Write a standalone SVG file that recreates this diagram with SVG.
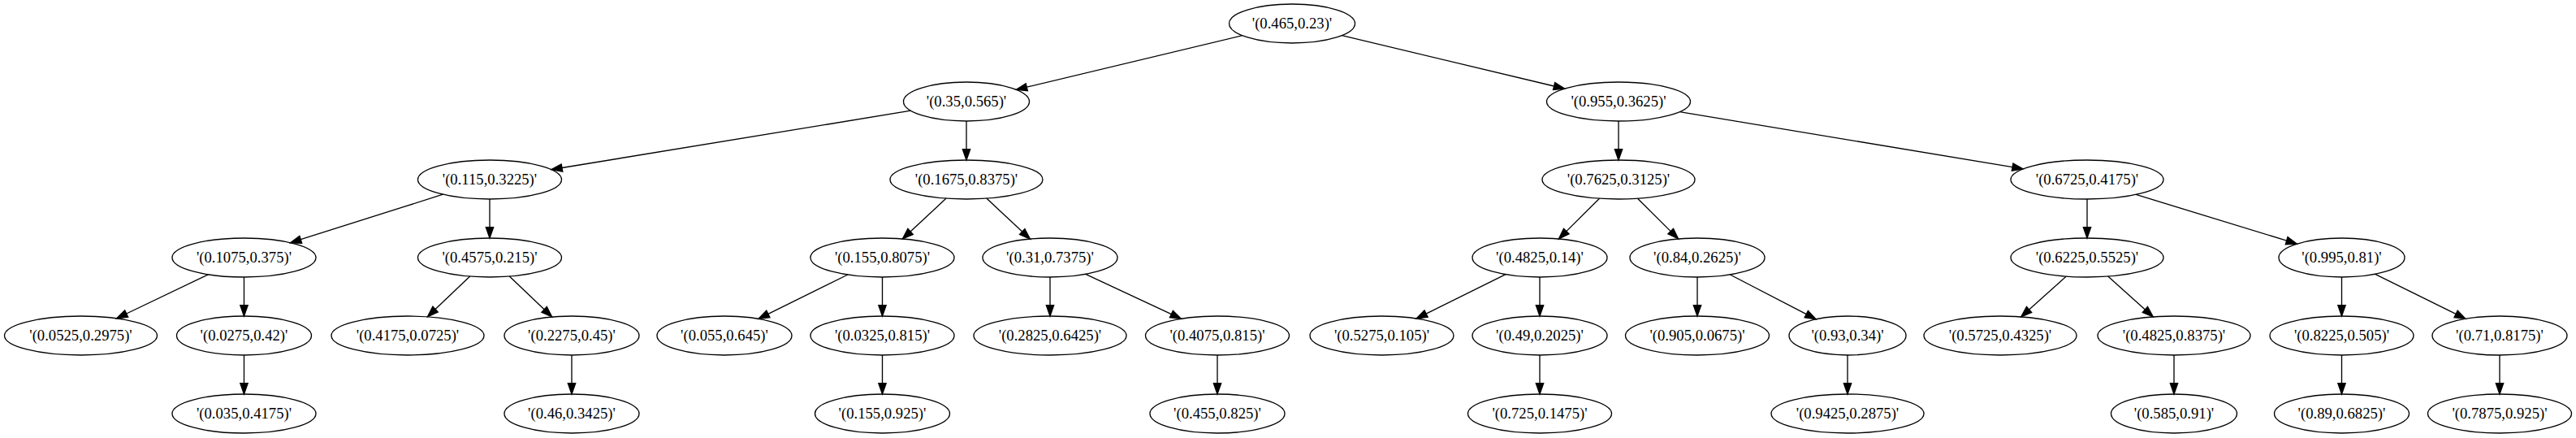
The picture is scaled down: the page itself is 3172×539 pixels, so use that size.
<svg xmlns="http://www.w3.org/2000/svg" width="3172" height="539" viewBox="0 0 3172 539">
<style>
.n ellipse{fill:none;stroke:#000;stroke-width:1.33}
.n text{font-family:"Liberation Serif","Times New Roman",serif;font-size:18.67px;text-anchor:middle;fill:#000}
.e path{fill:none;stroke:#000;stroke-width:1.33}
.e polygon{fill:#000;stroke:#000;stroke-width:1.33}
</style>
<rect width="3172" height="539" fill="#fff"/>
<g id="edges" class="e">
<path d="M1529.7,43.7L1264.3,107.2"/><polygon points="1251.3,110.3 1263.2,102.7 1265.4,111.7"/>
<path d="M1652.4,43.7L1913.6,106.0"/><polygon points="1926.6,109.1 1912.5,110.5 1914.7,101.5"/>
<path d="M1121.5,136.2L692.0,206.5"/><polygon points="678.8,208.6 691.2,201.9 692.8,211.1"/>
<path d="M1190,149V183.67"/><polygon points="1190,197 1185.33,183.67 1194.67,183.67"/>
<path d="M1993,149V183.67"/><polygon points="1993,197 1988.33,183.67 1997.67,183.67"/>
<path d="M2068.4,137.6L2478.1,205.7"/><polygon points="2491.2,207.9 2477.3,210.3 2478.9,201.1"/>
<path d="M545.5,239.2L370.3,294.7"/><polygon points="357.6,298.8 368.9,290.3 371.7,299.2"/>
<path d="M603,245V279.67"/><polygon points="603,293 598.33,279.67 607.67,279.67"/>
<path d="M1165.1,244.1L1121.1,284.9"/><polygon points="1111.3,294.0 1117.9,281.5 1124.3,288.4"/>
<path d="M1214.8,244.1L1258.7,285.0"/><polygon points="1268.4,294.1 1255.5,288.4 1261.9,281.6"/>
<path d="M1969.5,244.2L1928.8,284.6"/><polygon points="1919.3,294.0 1925.5,281.3 1932.1,287.9"/>
<path d="M2016.5,244.2L2057.2,284.6"/><polygon points="2066.7,294.0 2053.9,287.9 2060.5,281.3"/>
<path d="M2570,245V279.67"/><polygon points="2570,293 2565.33,279.67 2574.67,279.67"/>
<path d="M2630.2,239.4L2815.7,296.2"/><polygon points="2828.4,300.1 2814.3,300.7 2817.0,291.7"/>
<path d="M256.4,337.9L155.7,386.0"/><polygon points="143.7,391.8 153.7,381.8 157.7,390.2"/>
<path d="M300.5,341V375.67"/><polygon points="300.5,389 295.83,375.67 305.17,375.67"/>
<path d="M578.7,340.1L536.1,380.6"/><polygon points="526.4,389.8 532.9,377.2 539.3,384.0"/>
<path d="M627.3,340.1L670.1,380.8"/><polygon points="679.8,390.0 666.9,384.2 673.3,377.4"/>
<path d="M1043.9,338.0L945.9,386.4"/><polygon points="934.0,392.3 943.8,382.2 948.0,390.6"/>
<path d="M1086.5,341V375.67"/><polygon points="1086.5,389 1081.83,375.67 1091.17,375.67"/>
<path d="M1293,341V375.67"/><polygon points="1293,389 1288.33,375.67 1297.67,375.67"/>
<path d="M1336.8,337.4L1442.4,386.6"/><polygon points="1454.5,392.3 1440.4,390.8 1444.4,382.4"/>
<path d="M1854.0,337.7L1756.1,386.1"/><polygon points="1744.1,392.0 1754.0,381.9 1758.2,390.3"/>
<path d="M1896,341V375.67"/><polygon points="1896,389 1891.33,375.67 1900.67,375.67"/>
<path d="M2090,341V375.67"/><polygon points="2090,389 2085.33,375.67 2094.67,375.67"/>
<path d="M2130.4,338.0L2224.3,386.7"/><polygon points="2236.1,392.8 2222.1,390.8 2226.4,382.5"/>
<path d="M2544.3,340.1L2498.6,381.0"/><polygon points="2488.7,389.9 2495.5,377.5 2501.7,384.5"/>
<path d="M2595.7,340.1L2641.4,381.0"/><polygon points="2651.3,389.9 2638.3,384.5 2644.5,377.5"/>
<path d="M2883.5,341V375.67"/><polygon points="2883.5,389 2878.83,375.67 2888.17,375.67"/>
<path d="M2924.7,337.3L3024.1,386.4"/><polygon points="3036.0,392.3 3022.0,390.6 3026.2,382.2"/>
<path d="M300.5,437V471.67"/><polygon points="300.5,485 295.83,471.67 305.17,471.67"/>
<path d="M704,437V471.67"/><polygon points="704,485 699.33,471.67 708.67,471.67"/>
<path d="M1086.5,437V471.67"/><polygon points="1086.5,485 1081.83,471.67 1091.17,471.67"/>
<path d="M1499,437V471.67"/><polygon points="1499,485 1494.33,471.67 1503.67,471.67"/>
<path d="M1896,437V471.67"/><polygon points="1896,485 1891.33,471.67 1900.67,471.67"/>
<path d="M2275,437V471.67"/><polygon points="2275,485 2270.33,471.67 2279.67,471.67"/>
<path d="M2677,437V471.67"/><polygon points="2677,485 2672.33,471.67 2681.67,471.67"/>
<path d="M2883.5,437V471.67"/><polygon points="2883.5,485 2878.83,471.67 2888.17,471.67"/>
<path d="M3078,437V471.67"/><polygon points="3078,485 3073.33,471.67 3082.67,471.67"/>
</g>
<g id="n0" class="n"><ellipse cx="1591" cy="29" rx="77.5" ry="24"/><text x="1591" y="34.6">'(0.465,0.23)'</text></g>
<g id="n1" class="n"><ellipse cx="1190" cy="125" rx="77.5" ry="24"/><text x="1190" y="130.6">'(0.35,0.565)'</text></g>
<g id="n2" class="n"><ellipse cx="1993" cy="125" rx="88.5" ry="24"/><text x="1993" y="130.6">'(0.955,0.3625)'</text></g>
<g id="n3" class="n"><ellipse cx="603" cy="221" rx="88.5" ry="24"/><text x="603" y="226.6">'(0.115,0.3225)'</text></g>
<g id="n4" class="n"><ellipse cx="1190" cy="221" rx="94" ry="24"/><text x="1190" y="226.6">'(0.1675,0.8375)'</text></g>
<g id="n5" class="n"><ellipse cx="1993" cy="221" rx="94" ry="24"/><text x="1993" y="226.6">'(0.7625,0.3125)'</text></g>
<g id="n6" class="n"><ellipse cx="2570" cy="221" rx="94" ry="24"/><text x="2570" y="226.6">'(0.6725,0.4175)'</text></g>
<g id="n7" class="n"><ellipse cx="300.5" cy="317" rx="88.5" ry="24"/><text x="300.5" y="322.6">'(0.1075,0.375)'</text></g>
<g id="n8" class="n"><ellipse cx="603" cy="317" rx="88.5" ry="24"/><text x="603" y="322.6">'(0.4575,0.215)'</text></g>
<g id="n9" class="n"><ellipse cx="1086.5" cy="317" rx="88.5" ry="24"/><text x="1086.5" y="322.6">'(0.155,0.8075)'</text></g>
<g id="n10" class="n"><ellipse cx="1293" cy="317" rx="83" ry="24"/><text x="1293" y="322.6">'(0.31,0.7375)'</text></g>
<g id="n11" class="n"><ellipse cx="1896" cy="317" rx="83" ry="24"/><text x="1896" y="322.6">'(0.4825,0.14)'</text></g>
<g id="n12" class="n"><ellipse cx="2090" cy="317" rx="83" ry="24"/><text x="2090" y="322.6">'(0.84,0.2625)'</text></g>
<g id="n13" class="n"><ellipse cx="2570" cy="317" rx="94" ry="24"/><text x="2570" y="322.6">'(0.6225,0.5525)'</text></g>
<g id="n14" class="n"><ellipse cx="2883.5" cy="317" rx="77.5" ry="24"/><text x="2883.5" y="322.6">'(0.995,0.81)'</text></g>
<g id="n15" class="n"><ellipse cx="99.5" cy="413" rx="94" ry="24"/><text x="99.5" y="418.6">'(0.0525,0.2975)'</text></g>
<g id="n16" class="n"><ellipse cx="300.5" cy="413" rx="83" ry="24"/><text x="300.5" y="418.6">'(0.0275,0.42)'</text></g>
<g id="n17" class="n"><ellipse cx="502" cy="413" rx="94" ry="24"/><text x="502" y="418.6">'(0.4175,0.0725)'</text></g>
<g id="n18" class="n"><ellipse cx="704" cy="413" rx="83" ry="24"/><text x="704" y="418.6">'(0.2275,0.45)'</text></g>
<g id="n19" class="n"><ellipse cx="892" cy="413" rx="83" ry="24"/><text x="892" y="418.6">'(0.055,0.645)'</text></g>
<g id="n20" class="n"><ellipse cx="1086.5" cy="413" rx="88.5" ry="24"/><text x="1086.5" y="418.6">'(0.0325,0.815)'</text></g>
<g id="n21" class="n"><ellipse cx="1293" cy="413" rx="94" ry="24"/><text x="1293" y="418.6">'(0.2825,0.6425)'</text></g>
<g id="n22" class="n"><ellipse cx="1499" cy="413" rx="88.5" ry="24"/><text x="1499" y="418.6">'(0.4075,0.815)'</text></g>
<g id="n23" class="n"><ellipse cx="1701.5" cy="413" rx="88.5" ry="24"/><text x="1701.5" y="418.6">'(0.5275,0.105)'</text></g>
<g id="n24" class="n"><ellipse cx="1896" cy="413" rx="83" ry="24"/><text x="1896" y="418.6">'(0.49,0.2025)'</text></g>
<g id="n25" class="n"><ellipse cx="2090" cy="413" rx="88.5" ry="24"/><text x="2090" y="418.6">'(0.905,0.0675)'</text></g>
<g id="n26" class="n"><ellipse cx="2275" cy="413" rx="72" ry="24"/><text x="2275" y="418.6">'(0.93,0.34)'</text></g>
<g id="n27" class="n"><ellipse cx="2463" cy="413" rx="94" ry="24"/><text x="2463" y="418.6">'(0.5725,0.4325)'</text></g>
<g id="n28" class="n"><ellipse cx="2677" cy="413" rx="94" ry="24"/><text x="2677" y="418.6">'(0.4825,0.8375)'</text></g>
<g id="n29" class="n"><ellipse cx="2883.5" cy="413" rx="88.5" ry="24"/><text x="2883.5" y="418.6">'(0.8225,0.505)'</text></g>
<g id="n30" class="n"><ellipse cx="3078" cy="413" rx="83" ry="24"/><text x="3078" y="418.6">'(0.71,0.8175)'</text></g>
<g id="n31" class="n"><ellipse cx="300.5" cy="509" rx="88.5" ry="24"/><text x="300.5" y="514.6">'(0.035,0.4175)'</text></g>
<g id="n32" class="n"><ellipse cx="704" cy="509" rx="83" ry="24"/><text x="704" y="514.6">'(0.46,0.3425)'</text></g>
<g id="n33" class="n"><ellipse cx="1086.5" cy="509" rx="83" ry="24"/><text x="1086.5" y="514.6">'(0.155,0.925)'</text></g>
<g id="n34" class="n"><ellipse cx="1499" cy="509" rx="83" ry="24"/><text x="1499" y="514.6">'(0.455,0.825)'</text></g>
<g id="n35" class="n"><ellipse cx="1896" cy="509" rx="88.5" ry="24"/><text x="1896" y="514.6">'(0.725,0.1475)'</text></g>
<g id="n36" class="n"><ellipse cx="2275" cy="509" rx="94" ry="24"/><text x="2275" y="514.6">'(0.9425,0.2875)'</text></g>
<g id="n37" class="n"><ellipse cx="2677" cy="509" rx="77.5" ry="24"/><text x="2677" y="514.6">'(0.585,0.91)'</text></g>
<g id="n38" class="n"><ellipse cx="2883.5" cy="509" rx="83" ry="24"/><text x="2883.5" y="514.6">'(0.89,0.6825)'</text></g>
<g id="n39" class="n"><ellipse cx="3078" cy="509" rx="88.5" ry="24"/><text x="3078" y="514.6">'(0.7875,0.925)'</text></g>
</svg>
